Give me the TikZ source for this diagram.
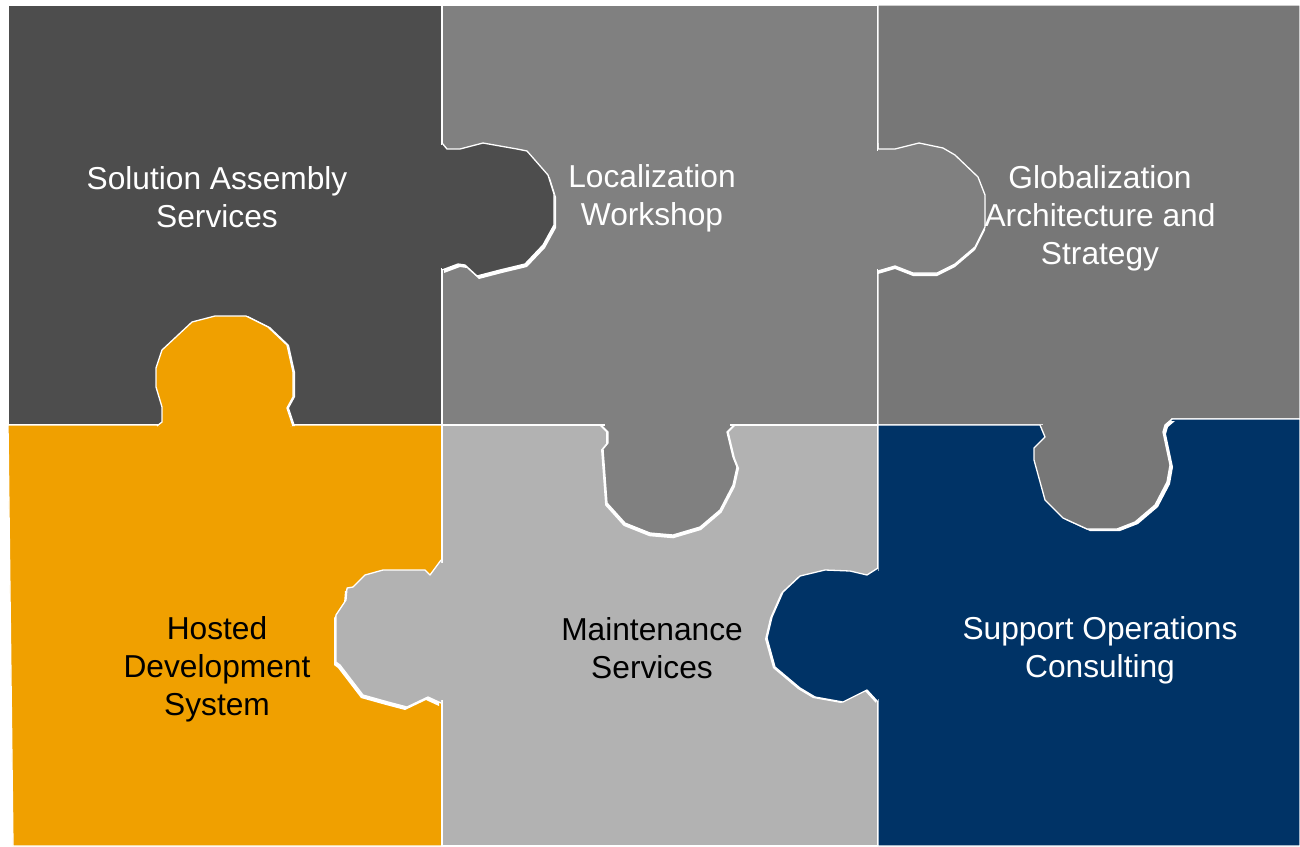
\documentclass[tikz,border=0pt]{standalone}
\usepackage{fontspec}
\setmainfont{Liberation Sans}
\definecolor{pdark}{HTML}{4D4D4D}
\definecolor{ploc}{HTML}{808080}
\definecolor{pglob}{HTML}{777777}
\definecolor{porange}{HTML}{F0A000}
\definecolor{pmaint}{HTML}{B2B2B2}
\definecolor{pnavy}{HTML}{003366}
\def\knobA{(442,143) -- (447,149) -- (460,149) -- (483,143) -- (517,149) -- (527,151) -- (548,175) -- (554,194) -- (554,225) -- (543,245) -- (525,264) -- (500,270) -- (477,276) -- (465,265) -- (458,264) -- (442,270)}
\def\knobB{(878,143) -- (878,149) -- (895,149) -- (919,143) -- (943,148) -- (955,155) -- (978,177) -- (985,195) -- (985,227) -- (975,247) -- (955,264) -- (937,273) -- (913,273) -- (895,266) -- (878,271)}
\def\knobC{(157,426) -- (162,422) -- (162,407) -- (156,387) -- (156,368) -- (162,350) -- (192,322) -- (215,316) -- (246,316) -- (268,327) -- (287,345) -- (293,372) -- (293,397) -- (287,408) -- (293,426)}
\def\knobD{(602,426) -- (608,432) -- (608,443) -- (603,449) -- (607,503) -- (625,523) -- (650,533) -- (673,535) -- (700,527) -- (720,510) -- (733,485) -- (737,467) -- (733,457) -- (727,432) -- (733,426)}
\def\knobE{(1040,425) -- (1045,437) -- (1034,448) -- (1034,460) -- (1045,500) -- (1063,518) -- (1087,529) -- (1117,529) -- (1135,522) -- (1155,505) -- (1167,482) -- (1170,465) -- (1163,432) -- (1165,425) -- (1172,419)}
\def\knobF{(441,560) -- (430,575) -- (425,570) -- (383,570) -- (365,575) -- (353,587) -- (347,588) -- (346,600) -- (336,615) -- (336,662) -- (340,665) -- (363,695) -- (388,702) -- (407,707) -- (428,697) -- (441,703)}
\def\knobG{(878,568) -- (867,575) -- (850,571) -- (825,570) -- (800,576) -- (783,592) -- (772,617) -- (767,638) -- (775,667) -- (800,688) -- (815,697) -- (843,702) -- (867,690) -- (878,702)}
\begin{document}
\begin{tikzpicture}[x=1pt,y=-1pt,
  edge/.style={draw=white,line width=1.3pt,line join=round},
  lbl/.style={align=center,font=\fontsize{31.7}{38}\selectfont}]
\useasboundingbox (0,0) rectangle (1300,846);
% pieces
\path[fill=pdark,edge] (8,5) rectangle (442,425);
\path[fill=ploc,edge] (442,5) rectangle (878,425);
\path[fill=pglob,edge] (878,5) -- (1300,5) -- (1300,419) -- (1172,419) -- (1165,425) -- (878,425) -- cycle;
\path[fill=porange,edge] (8,425) -- (442,425) -- (442,846) -- (13,846) -- cycle;
\path[fill=pmaint,edge] (442,425) rectangle (878,846);
\path[fill=pnavy,edge] (878,425) -- (1165,425) -- (1172,419) -- (1300,419) -- (1300,846) -- (878,846) -- cycle;
% notch gaps
\fill[white,shift={(2,3)}] \knobA -- cycle;
\fill[white,shift={(0,3)}] \knobB -- cycle;
\fill[white,shift={(2,0)}] \knobC -- cycle;
\fill[white,shift={(668,426)},scale=1.03,shift={(-668,-426)}] \knobD -- cycle;
\fill[white,shift={(3,2)}] \knobE -- cycle;
\fill[white,shift={(-2,3)}] \knobF -- cycle;
\fill[white,shift={(-2,1)}] \knobG -- cycle;
% knobs
\fill[pdark] \knobA -- cycle; \fill[pdark] (439,145) rectangle (445,268); \path[edge] \knobA;
\fill[ploc] \knobB -- cycle; \fill[ploc] (875,151) rectangle (881,269); \path[edge] \knobB;
\fill[porange] \knobC -- cycle; \fill[porange] (160,423) rectangle (290,429); \path[edge] \knobC;
\fill[ploc] \knobD -- cycle; \fill[ploc] (605,423) rectangle (730,429); \path[edge] \knobD;
\fill[pglob] \knobE -- cycle; \fill[pglob] (1043,422) rectangle (1163,428); \path[edge] \knobE;
\fill[pmaint] \knobF -- cycle; \fill[pmaint] (439,563) rectangle (445,700); \path[edge] \knobF;
\fill[pnavy] \knobG -- cycle; \fill[pnavy] (875,571) rectangle (881,699); \path[edge] \knobG;
% labels
\node[lbl,text=white] (t1) at (217,197) {Solution Assembly\\Services};
\node[lbl,text=white] (t2) at (652,198) {Localization\\Workshop};
\node[lbl,text=white] (t3) at (1100,218) {Globalization\\Architecture and\\Strategy};
\node[lbl,text=black] (t4) at (217,669) {Hosted\\Development\\System};
\node[lbl,text=black] (t5) at (652,648) {Maintenance\\Services};
\node[lbl,text=white] (t6) at (1100,650) {Support Operations\\Consulting};
\end{tikzpicture}
\end{document}
